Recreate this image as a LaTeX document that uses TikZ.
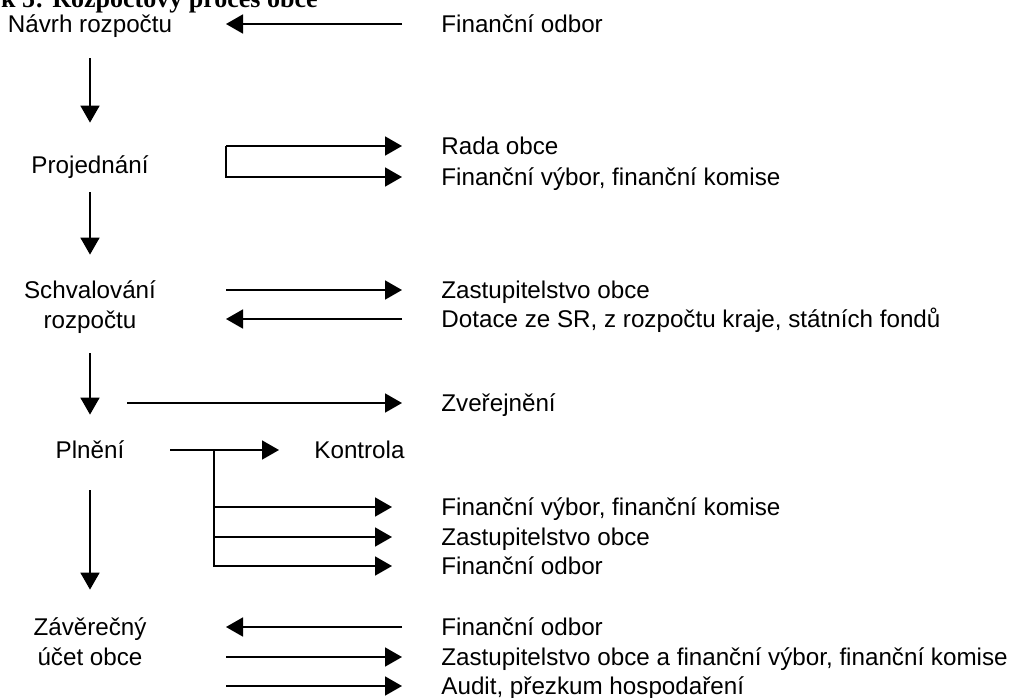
\documentclass[tikz,border=0pt]{standalone}
\usepackage{fontspec}
\setmainfont{Liberation Sans}
\newfontfamily\captionfont{Liberation Serif}
\usetikzlibrary{positioning, arrows.meta}
\tikzset{
	stagenode/.style={
			inner sep=0pt,
			text height=8.6pt,
			text depth=0pt,
			font=\fontsize{12.1}{14.5}\selectfont
		},
	actornode/.style={
			stagenode,
			anchor=west
		},
	flowline/.style={
			draw=black,
			line width=0.9pt,
			-{Triangle[length=8.5pt,width=9.5pt]}
		}
}

\begin{document}
\begin{tikzpicture}[x=0.5pt, y=-0.5pt]
\useasboundingbox (0,0) rectangle (1012,697);
\fill[white] (0,0) rectangle (1012,697);

\node[anchor=base east, inner sep=0pt, font=\captionfont\bfseries\fontsize{13}{15}\selectfont] (caption) at (318,7.5) {k 5: Rozpočtový proces obce};

% left column
\node[stagenode] (navrh) at (90,24) {Návrh rozpočtu};
\node[stagenode] (projed) at (90,165) {Projednání};
\node[stagenode] (schval) at (90,290) {Schvalování};
\node[stagenode, below=5.9pt of schval] (rozp) {rozpočtu};
\node[stagenode] (plneni) at (90,450) {Plnění};
\node[stagenode] (zaver) at (90,627) {Závěrečný};
\node[stagenode, below=5.9pt of zaver] (ucet) {účet obce};

% right column
\node[actornode] (fo1) at (441,24) {Finanční odbor};
\node[actornode] (rada) at (441,146) {Rada obce};
\node[actornode] (fvk1) at (441,177) {Finanční výbor, finanční komise};
\node[actornode] (zast1) at (441,290) {Zastupitelstvo obce};
\node[actornode] (dot) at (441,319) {Dotace ze SR, z rozpočtu kraje, státních fondů};
\node[actornode] (zver) at (441,403) {Zveřejnění};
\node[actornode] (kontr) at (314,450) {Kontrola};
\node[actornode] (fvk2) at (441,507) {Finanční výbor, finanční komise};
\node[actornode] (zast2) at (441,537) {Zastupitelstvo obce};
\node[actornode] (fo2) at (441,566) {Finanční odbor};
\node[actornode] (fo3) at (441,627) {Finanční odbor};
\node[actornode] (zast3) at (441,657) {Zastupitelstvo obce a finanční výbor, finanční komise};
\node[actornode] (audit) at (441,686) {Audit, přezkum hospodaření};

\coordinate (lx) at (226,0);
\coordinate (rx) at (402,0);
\coordinate (zx) at (127,0);
\coordinate (px) at (170,0);
\coordinate (bx) at (214,0);

% main flow
\draw[flowline, shorten <=12.7pt, shorten >=16.7pt] (navrh) -- (projed);
\draw[flowline, shorten <=9.2pt, shorten >=13.2pt] (projed) -- (schval);
\draw[flowline, shorten <=12.2pt, shorten >=13.2pt] (rozp) -- (plneni);
\draw[flowline, shorten <=15.7pt, shorten >=14.2pt] (plneni) -- (zaver);

% side flows
\draw[flowline] (rx |- fo1) -- (lx |- fo1);
\draw[flowline] (lx |- rada) -- (rx |- rada);
\draw[flowline] (lx |- rada) -- (lx |- fvk1) -- (rx |- fvk1);
\draw[flowline] (lx |- zast1) -- (rx |- zast1);
\draw[flowline] (rx |- dot) -- (lx |- dot);
\draw[flowline] (zx |- zver) -- (rx |- zver);
\draw[flowline, shorten >=17.5pt] (px |- kontr) -- (kontr.west);
\draw[flowline, shorten >=24.5pt] (bx |- kontr) -- (bx |- fo2) -- (fo2.west);
\draw[flowline, shorten >=24.5pt] (bx |- fvk2) -- (fvk2.west);
\draw[flowline, shorten >=24.5pt] (bx |- zast2) -- (zast2.west);
\draw[flowline] (rx |- fo3) -- (lx |- fo3);
\draw[flowline] (lx |- zast3) -- (rx |- zast3);
\draw[flowline] (lx |- audit) -- (rx |- audit);

\end{tikzpicture}
\end{document}
